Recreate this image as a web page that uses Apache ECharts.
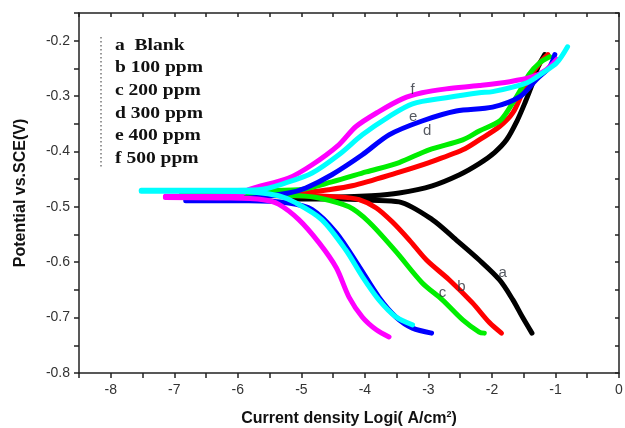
<!DOCTYPE html>
<html><head><meta charset="utf-8">
<script src="https://cdn.jsdelivr.net/npm/echarts@6/dist/echarts.min.js"></script>
<style>html,body{margin:0;padding:0;background:#fff}#c{width:625px;height:428px}</style>
</head><body><div id="c"></div>
<script>
// Legend / curve labels
const curveLetters = ['a', 'b', 'c', 'd', 'e', 'f'];
const legendLabels = ['a  Blank', 'b 100 ppm', 'c 200 ppm', 'd 300 ppm', 'e 400 ppm', 'f 500 ppm'];
const curveColors = ['#000000', '#ff0000', '#00ee00', '#0000ff', '#00ffff', '#ff00ff'];

// [log i, E] pairs, cathodic branches (from spike tip to bottom)
const blankCathodic = [[-5.20,-0.486],[-4.41,-0.486],[-3.90,-0.488],[-3.46,-0.491],[-2.94,-0.523],[-2.56,-0.560],[-2.20,-0.596],[-1.88,-0.632],[-1.67,-0.668],[-1.52,-0.699],[-1.37,-0.728]];
const ppm100Cathodic = [[-5.99,-0.480],[-5.04,-0.480],[-4.41,-0.482],[-4.09,-0.487],[-3.82,-0.502],[-3.57,-0.527],[-3.30,-0.560],[-3.03,-0.596],[-2.67,-0.632],[-2.31,-0.673],[-2.04,-0.709],[-1.85,-0.728]];
const ppm200Cathodic = [[-6.89,-0.477],[-5.83,-0.478],[-5.04,-0.480],[-4.72,-0.484],[-4.25,-0.500],[-3.94,-0.527],[-3.51,-0.581],[-3.10,-0.637],[-2.78,-0.668],[-2.46,-0.704],[-2.20,-0.726],[-2.12,-0.728]];
const ppm300Cathodic = [[-6.82,-0.489],[-5.83,-0.489],[-5.20,-0.493],[-4.83,-0.505],[-4.45,-0.547],[-4.09,-0.608],[-3.78,-0.663],[-3.51,-0.699],[-3.25,-0.719],[-2.95,-0.728]];
const ppm400Cathodic = [[-7.52,-0.472],[-6.50,-0.472],[-5.70,-0.474],[-5.36,-0.480],[-5.10,-0.492],[-4.68,-0.523],[-4.30,-0.578],[-4.04,-0.626],[-3.78,-0.668],[-3.51,-0.699],[-3.25,-0.713]];
const ppm500Cathodic = [[-7.14,-0.483],[-6.20,-0.484],[-5.60,-0.487],[-5.36,-0.495],[-5.04,-0.523],[-4.72,-0.565],[-4.45,-0.610],[-4.25,-0.663],[-4.04,-0.699],[-3.82,-0.722],[-3.62,-0.735]];

// anodic branches (from spike tip to top)
const blankAnodic = [[-5.20,-0.482],[-4.41,-0.482],[-3.90,-0.480],[-3.46,-0.475],[-2.94,-0.462],[-2.51,-0.442],[-2.20,-0.422],[-1.96,-0.402],[-1.77,-0.379],[-1.61,-0.346],[-1.48,-0.312],[-1.37,-0.280],[-1.28,-0.249],[-1.17,-0.225]];
const ppm100Anodic = [[-5.99,-0.477],[-5.04,-0.475],[-4.57,-0.469],[-4.20,-0.462],[-3.51,-0.439],[-2.99,-0.420],[-2.46,-0.397],[-2.20,-0.379],[-1.88,-0.355],[-1.67,-0.330],[-1.52,-0.294],[-1.36,-0.258],[-1.20,-0.234],[-1.12,-0.225]];
const ppm200Anodic = [[-6.89,-0.473],[-5.83,-0.471],[-5.04,-0.469],[-4.52,-0.455],[-3.98,-0.437],[-3.46,-0.420],[-2.99,-0.397],[-2.46,-0.379],[-2.20,-0.363],[-1.88,-0.345],[-1.72,-0.321],[-1.56,-0.291],[-1.41,-0.260],[-1.25,-0.240],[-1.09,-0.229]];
const ppm300Anodic = [[-6.82,-0.485],[-5.83,-0.484],[-5.20,-0.475],[-4.93,-0.466],[-4.52,-0.442],[-4.04,-0.406],[-3.62,-0.370],[-3.10,-0.345],[-2.56,-0.327],[-1.99,-0.320],[-1.56,-0.301],[-1.30,-0.270],[-1.09,-0.247],[-1.01,-0.225]];
const ppm400Anodic = [[-7.52,-0.470],[-6.50,-0.470],[-5.68,-0.469],[-5.20,-0.455],[-4.83,-0.439],[-4.41,-0.406],[-4.04,-0.370],[-3.62,-0.337],[-3.25,-0.314],[-2.72,-0.303],[-2.20,-0.294],[-1.99,-0.292],[-1.45,-0.276],[-1.20,-0.258],[-0.98,-0.240],[-0.81,-0.211]];
const ppm500Anodic = [[-7.14,-0.481],[-6.00,-0.480],[-5.83,-0.469],[-5.20,-0.448],[-4.83,-0.424],[-4.41,-0.388],[-4.14,-0.355],[-3.78,-0.328],[-3.41,-0.305],[-3.10,-0.294],[-2.72,-0.287],[-2.20,-0.281],[-1.72,-0.274],[-1.36,-0.265],[-1.14,-0.252],[-0.98,-0.234]];

// curve letter label anchors [log i, E]
const letterAnchors = [[-1.83,-0.619],[-2.48,-0.645],[-2.78,-0.655],[-3.02,-0.363],[-3.24,-0.337],[-3.25,-0.289]];

const cathodic = [blankCathodic, ppm100Cathodic, ppm200Cathodic, ppm300Cathodic, ppm400Cathodic, ppm500Cathodic];
const anodic = [blankAnodic, ppm100Anodic, ppm200Anodic, ppm300Anodic, ppm400Anodic, ppm500Anodic];
const drawOrder = [0, 1, 2, 3, 5, 4];

const series = [];
drawOrder.forEach(i => {
  [cathodic[i], anodic[i]].forEach(d => {
    series.push({
      type: 'line', data: d, showSymbol: false, smooth: 0.3,
      lineStyle: { color: curveColors[i], width: 5, cap: 'round', join: 'round' },
      silent: true, animation: false
    });
  });
});
series.push({
  type: 'scatter', symbolSize: 0, animation: false, silent: true,
  data: letterAnchors.map((p, i) => [p[0], p[1], curveLetters[i]]),
  label: { show: true, position: 'inside', formatter: p => p.data[2], color: '#2b2f3a', fontSize: 15, fontFamily: 'Liberation Sans' },
  z: 10
});

const isMult = (v, step) => Math.abs(v / step - Math.round(v / step)) < 1e-6;
const axisLineStyle = { color: '#222', width: 1.5 };

const chart = echarts.init(document.getElementById('c'), null, { renderer: 'canvas' });
chart.setOption({
  backgroundColor: '#fff',
  animation: false,
  grid: { left: 79, right: 6, top: 13, bottom: 55, containLabel: false, outerBoundsMode: 'none' },
  xAxis: [{
    type: 'value', min: -8.5, max: 0, interval: 0.5,
    axisLine: { lineStyle: axisLineStyle, onZero: false },
    axisTick: { inside: false, length: 5, lineStyle: axisLineStyle },
    axisLabel: { formatter: v => isMult(v, 1) ? String(Math.round(v)) : '', color: '#333', fontSize: 14, margin: 10, fontFamily: 'Liberation Sans' },
    splitLine: { show: false },
    name: 'Current density Logi( A/cm{s|2})', nameLocation: 'middle', nameGap: 37,
    nameTextStyle: { fontSize: 16, fontWeight: 'bold', color: '#111', fontFamily: 'Liberation Sans',
      rich: { s: { fontSize: 9, fontWeight: 'bold', verticalAlign: 'top', padding: [0, 0, 9, 0], color: '#111' } } }
  }, {
    type: 'value', position: 'top', min: -8.5, max: 0, interval: 0.5,
    axisLine: { lineStyle: axisLineStyle, onZero: false },
    axisTick: { inside: true, length: 4, lineStyle: axisLineStyle },
    axisLabel: { show: false }, splitLine: { show: false }
  }],
  yAxis: [{
    type: 'value', min: -0.8, max: -0.15, interval: 0.05,
    axisLine: { show: true, lineStyle: axisLineStyle, onZero: false },
    axisTick: { show: true, inside: false, length: 5, lineStyle: axisLineStyle },
    axisLabel: { formatter: v => isMult(v, 0.1) ? v.toFixed(1) : '', color: '#333', fontSize: 14, margin: 9, fontFamily: 'Liberation Sans' },
    splitLine: { show: false },
    name: 'Potential vs.SCE(V)', nameLocation: 'middle', nameGap: 50,
    nameTextStyle: { fontSize: 16, fontWeight: 'bold', color: '#111', fontFamily: 'Liberation Sans' }
  }, {
    type: 'value', position: 'right', min: -0.8, max: -0.15, interval: 0.05,
    axisLine: { show: true, lineStyle: axisLineStyle, onZero: false },
    axisTick: { show: true, inside: true, length: 4, lineStyle: axisLineStyle },
    axisLabel: { show: false }, splitLine: { show: false }
  }],
  graphic: [
    { type: 'line', shape: { x1: 101, y1: 37, x2: 101, y2: 169 }, style: { stroke: '#333', lineWidth: 1, lineDash: [1.5, 2.5] } },
    ...legendLabels.map((t, i) => ({
      type: 'text', x: 115, y: 37 + i * 22.6, scaleX: 1.15,
      style: { text: t, font: 'bold 17px "Liberation Serif"', fill: '#111' }
    }))
  ],
  series
});
</script></body></html>
